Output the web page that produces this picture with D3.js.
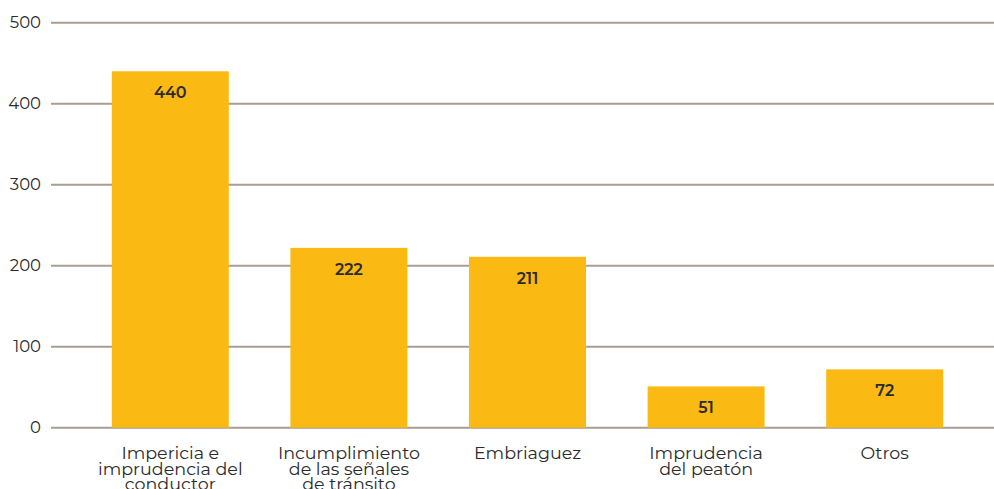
<!DOCTYPE html>
<html lang="es">
<head>
	<meta charset="utf-8" />
	<script src="https://cdn.jsdelivr.net/npm/d3@7"></script>
	<style>
		body { margin: 0; background: #fff; }
		svg { display: block; font-family: Montserrat, "Open Sans", sans-serif; }
	</style>
</head>
<body>
<div id="chart"></div>
<script>
	// datos
	var categorias = [
		["Impericia e", "imprudencia del", "conductor"],
		["Incumplimiento", "de las señales", "de tránsito"],
		["Embriaguez"],
		["Imprudencia", "del peatón"],
		["Otros"]
	];
	var valores = [440, 222, 211, 51, 72];
	var ticks = [0, 100, 200, 300, 400, 500];

	var width = 994, height = 489;

	var svg = d3.select("#chart")
		.append("svg")
		.attr("width", width)
		.attr("height", height);

	var x = d3.scaleBand()
		.domain(d3.range(valores.length))
		.range([81, 974])
		.paddingInner(0.345)
		.paddingOuter(0.1725);

	var y = d3.scaleLinear()
		.domain([0, 500])
		.range([427.7, 22.7]);

	// grid
	svg.append("g")
		.selectAll("line")
		.data(ticks)
		.enter()
		.append("line")
		.attr("x1", 51)
		.attr("x2", width)
		.attr("y1", function(d) { return y(d); })
		.attr("y2", function(d) { return y(d); })
		.attr("stroke", "#a99e91")
		.attr("stroke-width", 2);

	svg.append("g")
		.selectAll("text")
		.data(ticks)
		.enter()
		.append("text")
		.attr("x", 41)
		.attr("y", function(d) { return y(d); })
		.attr("dy", "0.35em")
		.attr("text-anchor", "end")
		.attr("font-size", 16.5)
		.attr("fill", "#2b2b2b")
		.text(function(d) { return d; });

	// barras
	svg.append("g")
		.selectAll("rect")
		.data(valores)
		.enter()
		.append("rect")
		.attr("x", function(d, i) { return x(i); })
		.attr("y", function(d) { return y(d); })
		.attr("width", x.bandwidth())
		.attr("height", function(d) { return y(0) - y(d); })
		.attr("fill", "#fbb913");

	svg.append("g")
		.selectAll("text")
		.data(valores)
		.enter()
		.append("text")
		.attr("x", function(d, i) { return x(i) + x.bandwidth() / 2; })
		.attr("y", function(d) { return y(d) + 27; })
		.attr("text-anchor", "middle")
		.attr("font-size", 16)
		.attr("font-weight", 600)
		.attr("fill", "#2b2b2b")
		.text(function(d) { return d; });

	// etiquetas
	var etiquetas = svg.append("g")
		.selectAll("text")
		.data(categorias)
		.enter()
		.append("text")
		.attr("text-anchor", "middle")
		.attr("font-size", 17.5)
		.attr("fill", "#2b2b2b");

	etiquetas.each(function(lineas, i) {
		var t = d3.select(this);
		lineas.forEach(function(l, j) {
			t.append("tspan")
				.attr("x", x(i) + x.bandwidth() / 2)
				.attr("y", 459 + j * 15.7)
				.text(l);
		});
	});
</script>
</body>
</html>
